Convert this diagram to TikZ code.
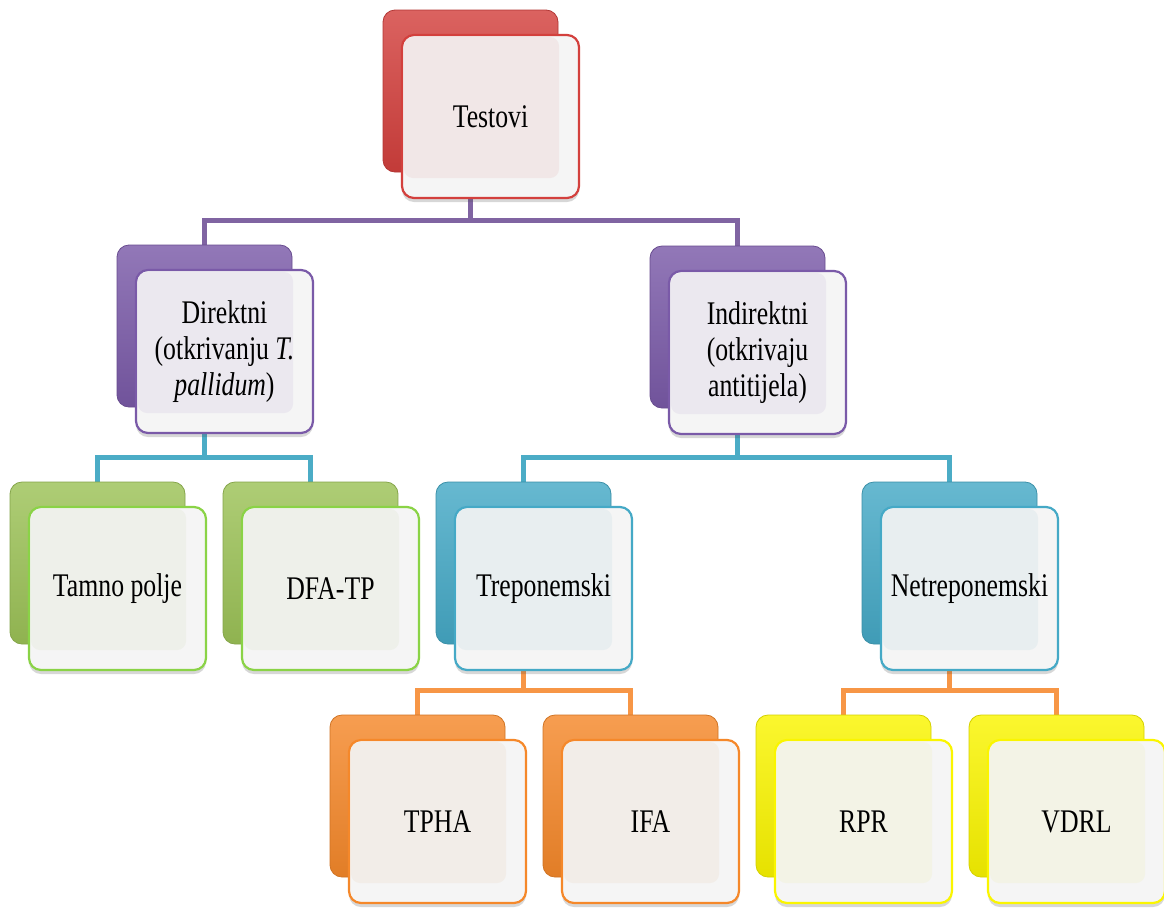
\documentclass[tikz,border=0pt]{standalone}
\usepackage{fontspec}
\setmainfont[FakeStretch=0.78]{Liberation Serif}
\usetikzlibrary{shadows}
\definecolor{cRed}{HTML}{D3403D}
\definecolor{cRedT}{HTML}{F1E7E7}
\definecolor{cPurple}{HTML}{7A5AA8}
\definecolor{cPurpleT}{HTML}{EBE8EF}
\definecolor{cGreen}{HTML}{9CC257}
\definecolor{cGreenT}{HTML}{EEF0EA}
\definecolor{cGreenL}{HTML}{8AD346}
\definecolor{cBlue}{HTML}{45A9C6}
\definecolor{cBlueT}{HTML}{E8EEF0}
\definecolor{cOrange}{HTML}{F5882A}
\definecolor{cOrangeT}{HTML}{F2EDE8}
\definecolor{cYellow}{HTML}{FAF500}
\definecolor{cYellowT}{HTML}{F3F3E6}
\definecolor{cLineP}{HTML}{8064A2}
\definecolor{cLineB}{HTML}{4BACC6}
\definecolor{cLineO}{HTML}{F79646}
\pgfdeclarelayer{bg}
\pgfsetlayers{bg,main}
\tikzset{
  backbox/.style={rectangle, rounded corners=12pt, minimum width=175pt, minimum height=162pt,
    inner sep=0pt, draw=#1!85!black, line width=0.8pt,
    top color=#1!82!white, middle color=#1, bottom color=#1!92!black, shading angle=0},
  frontbox/.style 2 args={rectangle, rounded corners=12pt, minimum width=177pt, minimum height=163pt,
    inner sep=0pt, draw=#2, line width=2.2pt, fill=white!96!black,
    drop shadow={shadow xshift=0pt, shadow yshift=-4pt, opacity=0.22, fill=black!70},
    align=center, font=\fontsize{33}{36}\selectfont,
    path picture={\fill[#1T, rounded corners=9pt]
      ([shift={(2pt,-2pt)}]path picture bounding box.north west) rectangle
      ([shift={(-20pt,20pt)}]path picture bounding box.south east);}},
  conn/.style={line width=5pt, draw=#1, line join=miter}
}
\newcommand\mycard[6]{%
  \node[backbox=#4] (#1B) at ({#2+87.5},{#3+81}) {};
  \node[frontbox={#4}{#5}] (#1) at ({#2+107.5},{#3+106.5}) {#6};
}
\begin{document}
\begin{tikzpicture}[x=1pt,y=-1pt]
\useasboundingbox (0,0) rectangle (1164,908);
\mycard{tes}{383}{10}{cRed}{cRed}{Testovi}
\mycard{dir}{117}{245}{cPurple}{cPurple}{Direktni\\(otkrivanju \textit{T.}\\\textit{pallidum})}
\mycard{ind}{650}{246}{cPurple}{cPurple}{Indirektni\\(otkrivaju\\antitijela)}
\mycard{tam}{10}{482}{cGreen}{cGreenL}{Tamno polje}
\mycard{dfa}{223}{482}{cGreen}{cGreenL}{DFA-TP}
\mycard{tre}{436}{482}{cBlue}{cBlue}{Treponemski}
\mycard{net}{862}{482}{cBlue}{cBlue}{Netreponemski}
\mycard{tph}{330}{715}{cOrange}{cOrange}{TPHA}
\mycard{ifa}{543}{715}{cOrange}{cOrange}{IFA}
\mycard{rpr}{756}{715}{cYellow}{cYellow}{RPR}
\mycard{vdr}{969}{715}{cYellow}{cYellow}{VDRL}
\coordinate (j1) at (0,220);
\coordinate (j2) at (0,457);
\coordinate (j3) at (0,690);
\begin{pgfonlayer}{bg}
\fill[white] (0,0) rectangle (1164,908);
\draw[conn=cLineP] (tesB.south) -- (tesB.south |- j1);
\draw[conn=cLineP] (dirB.north) |- (indB.north |- j1) -- (indB.north);
\draw[conn=cLineB] (dirB.south) -- (dirB.south |- j2);
\draw[conn=cLineB] (tamB.north) |- (dfaB.north |- j2) -- (dfaB.north);
\draw[conn=cLineB] (indB.south) -- (indB.south |- j2);
\draw[conn=cLineB] (treB.north) |- (netB.north |- j2) -- (netB.north);
\draw[conn=cLineO] (treB.south) -- (treB.south |- j3);
\draw[conn=cLineO] (tphB.north) |- (ifaB.north |- j3) -- (ifaB.north);
\draw[conn=cLineO] (netB.south) -- (netB.south |- j3);
\draw[conn=cLineO] (rprB.north) |- (vdrB.north |- j3) -- (vdrB.north);
\end{pgfonlayer}
\end{tikzpicture}
\end{document}
